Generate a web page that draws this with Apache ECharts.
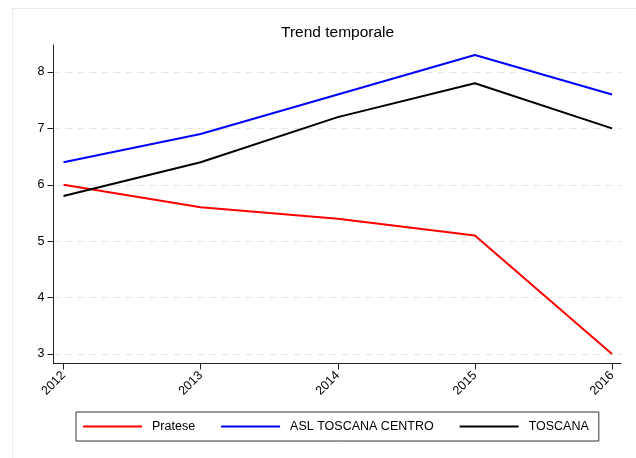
<!DOCTYPE html>
<html>
<head>
<meta charset="utf-8">
<script src="https://cdn.jsdelivr.net/npm/echarts@6/dist/echarts.min.js"></script>
<style>html,body{margin:0;padding:0;background:#fff;}#c{width:636px;height:458px;}</style>
</head>
<body>
<div id="c"></div>
<script>
const years = ['2012', '2013', '2014', '2015', '2016'];
const pratese = [6.0, 5.6, 5.4, 5.1, 3.0];
const aslToscanaCentro = [6.4, 6.9, 7.6, 8.3, 7.6];
const toscana = [5.8, 6.4, 7.2, 7.8, 7.0];
const seriesNames = ['Pratese', 'ASL TOSCANA CENTRO', 'TOSCANA'];
const titleText = 'Trend temporale';

const FONT = '"Liberation Sans", Arial, Helvetica, sans-serif';
const chart = echarts.init(document.getElementById('c'), null, {renderer: 'canvas'});

function lineSeries(name, data, color) {
  return {
    name: name, type: 'line', data: data, xAxisIndex: 2, yAxisIndex: 2,
    symbol: 'none', smooth: false, clip: false,
    lineStyle: {color: color, width: 2}, itemStyle: {color: color},
    emphasis: {disabled: true}, animation: false
  };
}

chart.setOption({
  animation: false,
  backgroundColor: '#fff',
  title: {
    text: titleText, left: 281, top: 25, padding: 0,
    textStyle: {fontFamily: FONT, fontSize: 15.5, fontWeight: 'normal', color: '#000'}
  },
  graphic: [{
    type: 'rect', shape: {x: 12.5, y: 8.5, width: 700, height: 500},
    style: {fill: null, stroke: '#e4eeee', lineWidth: 1}, silent: true, z: -10
  }],
  legend: {
    data: seriesNames.map(n => ({name: n, icon: 'rect'})),
    left: 76, top: 412,
    orient: 'horizontal',
    borderColor: '#333', borderWidth: 1,
    padding: [8, 10, 8, 7],
    itemWidth: 59, itemHeight: 2, itemGap: 26,
    textStyle: {fontFamily: FONT, fontSize: 12.5, color: '#000', padding: [0, 0, 0, 5], lineHeight: 13},
    selectedMode: false
  },
  grid: [
    {left: 53.5, right: 15, top: 45, bottom: 94.5},
    {left: 53.5, right: 15, top: 72, bottom: 104},
    {left: 63.5, right: 24, top: 72, bottom: 104}
  ],
  xAxis: [
    {gridIndex: 0, type: 'value', min: 0, max: 1,
     axisLine: {show: true, lineStyle: {color: '#222', width: 1}},
     axisTick: {show: false}, axisLabel: {show: false}, splitLine: {show: false}},
    {gridIndex: 1, type: 'value', min: 0, max: 1, show: false},
    {gridIndex: 2, type: 'category', data: years, boundaryGap: false, offset: 9.5,
     axisLine: {show: false},
     axisTick: {show: true, length: 6, lineStyle: {color: '#222', width: 1}},
     axisLabel: {rotate: 45, margin: 10, fontFamily: FONT, fontSize: 12.5, color: '#000'},
     splitLine: {show: false}}
  ],
  yAxis: [
    {gridIndex: 0, type: 'value', min: 0, max: 1,
     axisLine: {show: true, lineStyle: {color: '#222', width: 1}},
     axisTick: {show: false}, axisLabel: {show: false}, splitLine: {show: false}},
    {gridIndex: 1, type: 'value', min: 3, max: 8, interval: 1,
     axisLine: {show: false},
     axisTick: {show: true, length: 6, lineStyle: {color: '#222', width: 1}},
     axisLabel: {margin: 9, fontFamily: FONT, fontSize: 12.5, color: '#000'},
     splitLine: {show: true, lineStyle: {color: '#e6e6e6', width: 1, type: [7, 5]}}},
    {gridIndex: 2, type: 'value', min: 3, max: 8, interval: 1, show: false}
  ],
  series: [
    lineSeries(seriesNames[0], pratese, '#ff0000'),
    lineSeries(seriesNames[1], aslToscanaCentro, '#0000ff'),
    lineSeries(seriesNames[2], toscana, '#000000')
  ]
});
</script>
</body>
</html>
